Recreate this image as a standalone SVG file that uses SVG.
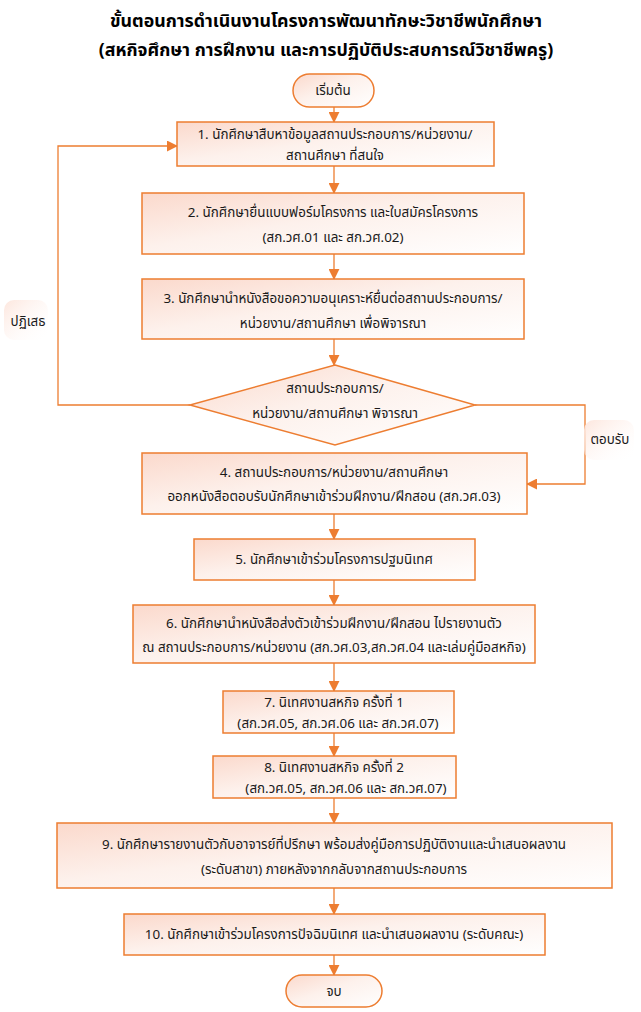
<svg xmlns="http://www.w3.org/2000/svg" width="641" height="1012" viewBox="0 0 641 1012">
<defs>
<linearGradient id="g" x1="0" y1="0" x2="1" y2="1">
<stop offset="0" stop-color="#fbd9cc"/>
<stop offset="0.45" stop-color="#fdf1ec"/>
<stop offset="1" stop-color="#ffffff"/>
</linearGradient>
<linearGradient id="lg" x1="0" y1="0" x2="1" y2="1">
<stop offset="0" stop-color="#fde6dd"/>
<stop offset="1" stop-color="#ffffff" stop-opacity="0"/>
</linearGradient>
<marker id="ah" viewBox="0 0 12 12" refX="11" refY="6" markerWidth="11" markerHeight="11" orient="auto" markerUnits="userSpaceOnUse">
<path d="M0,0 L12,6 L0,12 z" fill="#ed7d31"/>
</marker>
</defs>
<style>
.b{fill:url(#g);stroke:#ed7d31;stroke-width:1.5}
.t{font-family:"Noto Sans Thai","Noto Sans","DejaVu Sans",sans-serif;font-size:13.4px;fill:#1a1a1a;text-anchor:middle}
.h{font-family:"Noto Sans Thai","Noto Sans","DejaVu Sans",sans-serif;font-size:17.8px;font-weight:bold;fill:#000;text-anchor:middle}
.c{fill:none;stroke:#ed7d31;stroke-width:1.3;marker-end:url(#ah)}
</style>
<rect width="641" height="1012" fill="#fff"/>
<g id="title">
<text class="h" x="326" y="27">ขั้นตอนการดำเนินงานโครงการพัฒนาทักษะวิชาชีพนักศึกษา</text>
<text class="h" x="326" y="56">(สหกิจศึกษา การฝึกงาน และการปฏิบัติประสบการณ์วิชาชีพครู)</text>
</g>
<g id="connectors">
<line class="c" x1="334" y1="107" x2="334" y2="122"/>
<line class="c" x1="334" y1="166" x2="334" y2="193"/>
<line class="c" x1="334" y1="254" x2="334" y2="279"/>
<line class="c" x1="334" y1="339" x2="334" y2="365"/>
<polyline class="c" points="190,405 58,405 58,146 177,146"/>
<polyline class="c" points="475,405 585,405 585,484 527,484"/>
<line class="c" x1="334" y1="514" x2="334" y2="539"/>
<line class="c" x1="334" y1="580" x2="334" y2="605"/>
<line class="c" x1="334" y1="663" x2="334" y2="691"/>
<line class="c" x1="334" y1="733" x2="334" y2="756"/>
<line class="c" x1="334" y1="798" x2="334" y2="823"/>
<line class="c" x1="334" y1="888" x2="334" y2="914"/>
<line class="c" x1="334" y1="955" x2="334" y2="975"/>
</g>
<g id="label-reject">
<rect x="4" y="300" width="44" height="40" rx="10" fill="url(#lg)"/>
<text class="t" x="28" y="326">ปฏิเสธ</text>
</g>
<g id="label-accept">
<rect x="584" y="420" width="50" height="40" rx="10" fill="url(#lg)"/>
<text class="t" x="610" y="444">ตอบรับ</text>
</g>
<g id="start">
<rect class="b" x="293" y="74" width="81" height="33" rx="16.5"/>
<text class="t" x="333" y="95">เริ่มต้น</text>
</g>
<g id="step1">
<rect class="b" x="177" y="122" width="317" height="44"/>
<text class="t" x="335" y="139">1. นักศึกษาสืบหาข้อมูลสถานประกอบการ/หน่วยงาน/</text>
<text class="t" x="335" y="160">สถานศึกษา ที่สนใจ</text>
</g>
<g id="step2">
<rect class="b" x="142" y="193" width="382" height="61"/>
<text class="t" x="333" y="217">2. นักศึกษายื่นแบบฟอร์มโครงการ และใบสมัครโครงการ</text>
<text class="t" x="333" y="242">(สก.วศ.01 และ สก.วศ.02)</text>
</g>
<g id="step3">
<rect class="b" x="142" y="279" width="382" height="60"/>
<text class="t" x="333" y="303">3. นักศึกษานำหนังสือขอความอนุเคราะห์ยื่นต่อสถานประกอบการ/</text>
<text class="t" x="333" y="328">หน่วยงาน/สถานศึกษา เพื่อพิจารณา</text>
</g>
<g id="decision">
<polygon class="b" points="335,365 475,405 335,445 190,405"/>
<text class="t" x="335" y="393">สถานประกอบการ/</text>
<text class="t" x="335" y="418">หน่วยงาน/สถานศึกษา พิจารณา</text>
</g>
<g id="step4">
<rect class="b" x="142" y="453" width="385" height="61"/>
<text class="t" x="334" y="477">4. สถานประกอบการ/หน่วยงาน/สถานศึกษา</text>
<text class="t" x="334" y="501">ออกหนังสือตอบรับนักศึกษาเข้าร่วมฝึกงาน/ฝึกสอน (สก.วศ.03)</text>
</g>
<g id="step5">
<rect class="b" x="194" y="539" width="281" height="41"/>
<text class="t" x="334" y="564">5. นักศึกษาเข้าร่วมโครงการปฐมนิเทศ</text>
</g>
<g id="step6">
<rect class="b" x="133" y="605" width="402" height="58"/>
<text class="t" x="334" y="628">6. นักศึกษานำหนังสือส่งตัวเข้าร่วมฝึกงาน/ฝึกสอน ไปรายงานตัว</text>
<text class="t" x="334" y="652">ณ สถานประกอบการ/หน่วยงาน (สก.วศ.03,สก.วศ.04 และเล่มคู่มือสหกิจ)</text>
</g>
<g id="step7">
<rect class="b" x="223" y="691" width="231" height="42"/>
<text class="t" x="334" y="707">7. นิเทศงานสหกิจ ครั้งที่ 1</text>
<text class="t" x="338" y="728">(สก.วศ.05, สก.วศ.06 และ สก.วศ.07)</text>
</g>
<g id="step8">
<rect class="b" x="213" y="756" width="243" height="42"/>
<text class="t" x="334" y="772">8. นิเทศงานสหกิจ ครั้งที่ 2</text>
<text class="t" x="346" y="793">(สก.วศ.05, สก.วศ.06 และ สก.วศ.07)</text>
</g>
<g id="step9">
<rect class="b" x="57" y="823" width="555" height="65"/>
<text class="t" x="334" y="849">9. นักศึกษารายงานตัวกับอาจารย์ที่ปรึกษา พร้อมส่งคู่มือการปฏิบัติงานและนำเสนอผลงาน</text>
<text class="t" x="334" y="874">(ระดับสาขา) ภายหลังจากกลับจากสถานประกอบการ</text>
</g>
<g id="step10">
<rect class="b" x="124" y="914" width="421" height="41"/>
<text class="t" x="334" y="939">10. นักศึกษาเข้าร่วมโครงการปัจฉิมนิเทศ และนำเสนอผลงาน (ระดับคณะ)</text>
</g>
<g id="end">
<rect class="b" x="286" y="975" width="96" height="32" rx="16"/>
<text class="t" x="334" y="996">จบ</text>
</g>
</svg>
